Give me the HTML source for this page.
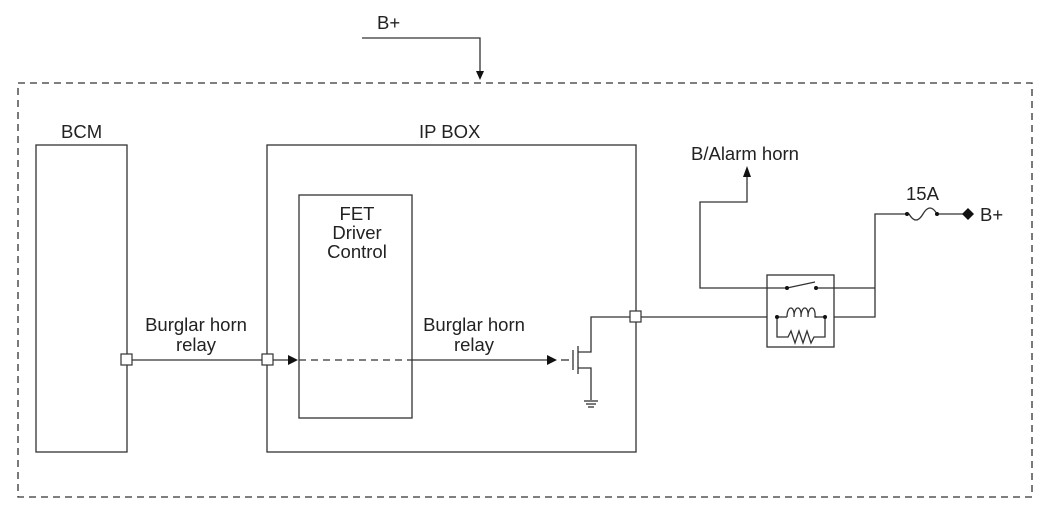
<!DOCTYPE html>
<html><head><style>
body{margin:0;background:#fff}
svg text{font-family:"Liberation Sans",Arial,sans-serif;font-size:18.5px;fill:#222}
</style></head><body>
<svg width="1050" height="507" viewBox="0 0 1050 507" xmlns="http://www.w3.org/2000/svg">
<g stroke="#333" stroke-width="1.3" fill="none">
<rect x="18" y="83" width="1014" height="414" stroke-dasharray="7,5"/>
<polyline points="362,38 480,38 480,74"/>
<rect x="36" y="145" width="91" height="307"/>
<rect x="267" y="145" width="369" height="307"/>
<rect x="299" y="195" width="113" height="223"/>
<line x1="127" y1="360" x2="290" y2="360"/>
<line x1="299" y1="360" x2="412" y2="360" stroke-dasharray="7,5"/>
<line x1="412" y1="360" x2="548" y2="360"/>
<line x1="561" y1="360" x2="569" y2="360"/>
<line x1="573" y1="350" x2="573" y2="370"/>
<line x1="578" y1="346" x2="578" y2="374"/>
<polyline points="578,352 591,352 591,317 767,317"/>
<polyline points="578,368 591,368 591,400"/>
<line x1="584" y1="401" x2="598" y2="401"/>
<line x1="586" y1="404" x2="596" y2="404"/>
<line x1="588" y1="407" x2="594" y2="407"/>
<rect x="767" y="275" width="67" height="72"/>
<polyline points="747,176 747,202 700,202 700,288 787,288"/>
<line x1="787" y1="288" x2="815" y2="282"/>
<line x1="816" y1="288" x2="875" y2="288"/>
<polyline points="834,317 875,317 875,214 907,214"/>
<line x1="777" y1="317" x2="787" y2="317"/>
<path d="M787,317 c0,-12 8,-12 7,0 c0,-12 8,-12 7,0 c0,-12 8,-12 7,0 c0,-12 8,-12 7,0 l2,0"/>
<line x1="815" y1="317" x2="825" y2="317"/>
<polyline points="777,317 777,337 788,337 791,331 795,343 799,331 803,343 807,331 811,343 814,337 825,337 825,317"/>
<path d="M907,214 q0,0 2,0 q7,12 14,0 q7,-12 14,0 l28,0"/>
</g>
<g fill="#111">
<polygon points="480,80 476,71 484,71"/>
<polygon points="298,360 288,355 288,365"/>
<polygon points="557,360 547,355 547,365"/>
<polygon points="747,166 743,177 751,177"/>
<circle cx="787" cy="288" r="2"/><circle cx="816" cy="288" r="2"/>
<circle cx="777" cy="317" r="2"/><circle cx="825" cy="317" r="2"/>
<circle cx="907" cy="214" r="2"/><circle cx="937" cy="214" r="2"/>
<polygon points="968,208 974,214 968,220 962,214"/>
</g>
<g fill="#fff" stroke="#333" stroke-width="1.2">
<rect x="121" y="354" width="11" height="11"/>
<rect x="262" y="354" width="11" height="11"/>
<rect x="630" y="311" width="11" height="11"/>
</g>
<text x="377" y="29">B+</text>
<text x="61" y="138">BCM</text>
<text x="419" y="138">IP BOX</text>
<text x="357" y="220" text-anchor="middle">FET</text>
<text x="357" y="239" text-anchor="middle">Driver</text>
<text x="357" y="258" text-anchor="middle">Control</text>
<text x="196" y="331" text-anchor="middle">Burglar horn</text>
<text x="196" y="351" text-anchor="middle">relay</text>
<text x="474" y="331" text-anchor="middle">Burglar horn</text>
<text x="474" y="351" text-anchor="middle">relay</text>
<text x="691" y="160">B/Alarm horn</text>
<text x="906" y="200">15A</text>
<text x="980" y="221">B+</text>
</svg>
</body></html>
